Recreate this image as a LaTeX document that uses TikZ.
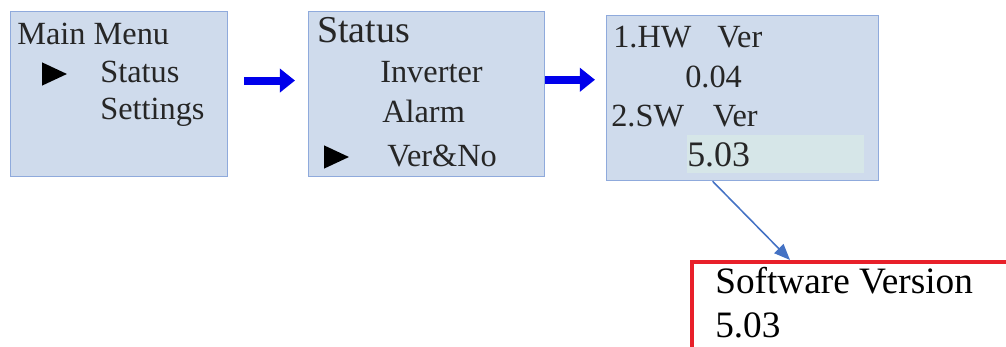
\documentclass[tikz,border=0pt]{standalone}
\usepackage{fontspec}
\setmainfont{Liberation Serif}
\usetikzlibrary{positioning,shapes.geometric,arrows.meta,calc}

\definecolor{screenfill}{RGB}{207,219,236}
\definecolor{screenline}{RGB}{143,170,220}
\definecolor{hilite}{RGB}{214,230,232}
\definecolor{linkblue}{RGB}{68,114,196}
\definecolor{redframe}{RGB}{232,32,42}

\begin{document}
\begin{tikzpicture}[
    x=0.025cm, y=-0.025cm,
    screen/.style={
        rectangle, draw=screenline, fill=screenfill,
        line width=0.9pt, anchor=north west,
        minimum height=4.125cm, inner sep=0
    },
    item/.style={
        anchor=base west, inner sep=0, text=black!85,
        font=\fontsize{23}{28}\selectfont
    },
    pointer/.style={
        isosceles triangle, isosceles triangle stretches,
        fill=black, inner sep=0,
        minimum width=0.58cm, minimum height=0.62cm
    },
    menuarrow/.style={
        line width=0.2cm, draw=blue!92!black,
        -{Triangle[length=0.38cm,width=0.58cm]}
    },
    link/.style={
        line width=1.1pt, draw=linkblue,
        -{Triangle[length=0.4cm,width=0.32cm]}
    }
]
\path[use as bounding box, clip] (0,0) rectangle (1006,347);

% Screens
\node[screen, minimum width=5.425cm] (mainmenu) at (10,11) {};
\node[screen, minimum width=5.9cm] (statusmenu) at (308,11) {};
\node[screen, minimum width=6.8cm] (verscreen) at (606,15) {};
\node[draw=redframe, line width=0.1cm, anchor=north west,
      minimum width=8.5cm, minimum height=3.2cm] (swbox) at (690,260) {};

% Main menu texts
\node[item] (mmtitle) at (17,45) {Main Menu};
\node[pointer] (ptr1) at (49.5,74) {};
\node[item] (mmstatus) at (100,83) {Status};
\node[item] (mmsettings) at (100,120) {Settings};

% Status menu texts
\node[item, font=\fontsize{27}{32}\selectfont] (sttitle) at (317,43) {Status};
\node[item] (stinv) at (380,83) {Inverter};
\node[item] (stalarm) at (382,123) {Alarm};
\node[pointer] (ptr2) at (331.5,157) {};
\node[item] (stver) at (387,167) {Ver\&No};

% Version screen texts
\node[item] (hwver) at (613,48) {1.HW\hspace{0.65cm}Ver};
\node[item] (hwval) at (685,88) {0.04};
\node[item] (swver) at (611,127) {2.SW\hspace{0.72cm}Ver};
\node[fill=hilite, anchor=north west, inner sep=0,
      minimum width=4.425cm, minimum height=0.95cm] (hl) at (687,135) {};
\node[item, font=\fontsize{25.5}{30}\selectfont] (swval) at (687,167) {5.03};

% Software version box
\node[item, text=black, font=\fontsize{26.5}{32}\selectfont] (swlabel) at (715,293) {Software Version};
\node[item, text=black, font=\fontsize{26.5}{32}\selectfont] (swvalue) at (715,337) {5.03};

% Arrows
\draw[menuarrow, shorten <=0.4cm, shorten >=0.325cm]
    ([yshift=0.34cm]mainmenu.east) -- ([yshift=0.34cm]mainmenu.east -| statusmenu.west);
\draw[menuarrow, shorten >=0.275cm]
    ([yshift=0.36cm]statusmenu.east) -- ([yshift=0.36cm]statusmenu.east -| verscreen.west);
\draw[link] ([xshift=-0.75cm]verscreen.south) -- ([xshift=2.5cm]swbox.north west);

\end{tikzpicture}
\end{document}
